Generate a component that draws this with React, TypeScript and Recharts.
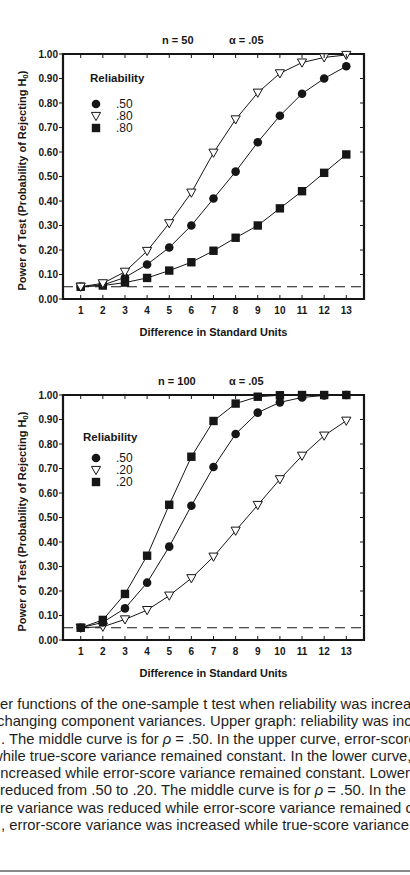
import React from 'react';
import { LineChart, Line, XAxis, YAxis, ReferenceLine, ReferenceArea } from 'recharts';

// difference in standard units (x categories)
const differences = [1, 2, 3, 4, 5, 6, 7, 8, 9, 10, 11, 12, 13];
const yTicks = [0, 0.1, 0.2, 0.3, 0.4, 0.5, 0.6, 0.7, 0.8, 0.9, 1.0];

// n = 50: reliability raised from .50 to .80
const n50Rel50 = [0.05, 0.057, 0.088, 0.141, 0.21, 0.3, 0.41, 0.52, 0.64, 0.748, 0.838, 0.9, 0.95];
const n50ErrorReduced = [0.05, 0.064, 0.111, 0.196, 0.309, 0.434, 0.597, 0.733, 0.842, 0.921, 0.965, 0.986, 0.996];
const n50TrueIncreased = [0.05, 0.055, 0.067, 0.086, 0.116, 0.15, 0.197, 0.25, 0.3, 0.37, 0.44, 0.515, 0.59];

// n = 100: reliability lowered from .50 to .20
const n100Rel50 = [0.05, 0.072, 0.129, 0.234, 0.381, 0.548, 0.706, 0.841, 0.928, 0.97, 0.99, 0.998, 1.0];
const n100TrueReduced = [0.05, 0.082, 0.188, 0.344, 0.552, 0.748, 0.894, 0.965, 0.993, 0.999, 1.0, 1.0, 1.0];
const n100ErrorIncreased = [0.05, 0.054, 0.084, 0.122, 0.181, 0.252, 0.34, 0.446, 0.551, 0.656, 0.752, 0.834, 0.895];

const alphaLevel = 0.05;

const captionLines = [
  'er functions of the one-sample t test when reliability was increased',
  'changing component variances. Upper graph: reliability was increased',
  '. The middle curve is for \u03c1 = .50. In the upper curve, error-score',
  'while true-score variance remained constant. In the lower curve,',
  'increased while error-score variance remained constant. Lower graph',
  'reduced from .50 to .20. The middle curve is for \u03c1 = .50. In the upper',
  're variance was reduced while error-score variance remained constant',
  ', error-score variance was increased while true-score variance remained',
];
const captionOffsets = [0, -3, 1, -8, -3, 0, 0, 1];

const FONT = '"Liberation Sans", Arial, Helvetica, sans-serif';
const INK = '#161616';
const CHART_W = 410;
const CHART_H = 345;
const PLOT_TOP = 54;
const PLOT_BOTTOM = 299;
const PLOT_LEFT = 63;
const PLOT_RIGHT = 364;

const buildRows = (mid: number[], upper: number[], lower: number[]) =>
  differences.map((d, i) => ({ d, mid: mid[i], upper: upper[i], lower: lower[i] }));

const n50Rows = buildRows(n50Rel50, n50ErrorReduced, n50TrueIncreased);
const n100Rows = buildRows(n100Rel50, n100TrueReduced, n100ErrorIncreased);

type Shape = 'circle' | 'triangle' | 'square';

const Marker = ({ shape, cx, cy }: { shape: Shape; cx: number; cy: number }) => {
  if (shape === 'circle') return <circle cx={cx} cy={cy} r={4.3} fill={INK} />;
  if (shape === 'square') return <rect x={cx - 4.2} y={cy - 4.2} width={8.4} height={8.4} fill={INK} />;
  return (
    <polygon
      points={`${cx - 4.6},${cy - 3.6} ${cx + 4.6},${cy - 3.6} ${cx},${cy + 4.6}`}
      fill="#fff"
      stroke={INK}
      strokeWidth={1}
    />
  );
};

const dotFor = (shape: Shape) => (p: any) =>
  <Marker key={`${shape}-${p.index}`} shape={shape} cx={p.cx} cy={p.cy} />;

const XTick = (props: any) => {
  const { x, payload } = props;
  return (
    <g>
      <line x1={x} x2={x} y1={PLOT_BOTTOM} y2={PLOT_BOTTOM - 4} stroke={INK} strokeWidth={1} />
      <line x1={x} x2={x} y1={PLOT_TOP} y2={PLOT_TOP + 4} stroke={INK} strokeWidth={1} />
      <text x={x} y={PLOT_BOTTOM + 15} textAnchor="middle" fontFamily={FONT} fontWeight="bold" fontSize={10} fill={INK}>
        {payload.value}
      </text>
    </g>
  );
};

const YTick = (props: any) => {
  const { y, payload } = props;
  return (
    <g>
      <line x1={PLOT_LEFT - 4} x2={PLOT_LEFT} y1={y} y2={y} stroke={INK} strokeWidth={1} />
      <line x1={PLOT_RIGHT - 4} x2={PLOT_RIGHT} y1={y} y2={y} stroke={INK} strokeWidth={1} />
      <text x={PLOT_LEFT - 5} y={y + 3.5} textAnchor="end" fontFamily={FONT} fontWeight="bold" fontSize={10} fill={INK}>
        {Number(payload.value).toFixed(2)}
      </text>
    </g>
  );
};

const XTitle = () => (
  <text x={(PLOT_LEFT + PLOT_RIGHT) / 2} y={PLOT_BOTTOM + 37} textAnchor="middle" fontFamily={FONT} fontWeight="bold" fontSize={11} fill={INK}>
    Difference in Standard Units
  </text>
);

const YTitle = () => {
  const cx = 22;
  const cy = (PLOT_TOP + PLOT_BOTTOM) / 2 + 4;
  return (
    <text
      x={cx}
      y={cy}
      transform={`rotate(-90 ${cx} ${cy})`}
      textAnchor="middle"
      dominantBaseline="central"
      fontFamily={FONT}
      fontWeight="bold"
      fontSize={11}
      fill={INK}
    >
      Power of Test (Probability of Rejecting H
      <tspan dy={3} fontSize={8}>0</tspan>
      <tspan dy={-3}>)</tspan>
    </text>
  );
};

type LegendEntry = { shape: Shape; label: string };

interface PowerChartProps {
  rows: { d: number; mid: number; upper: number; lower: number }[];
  upperShape: Shape;
  lowerShape: Shape;
  top: number;
  n: string;
  nLeft: number;
  legend: LegendEntry[];
  legendTitleLeft: number;
  legendTitleY: number;
  legendRowsY: number[];
}

const PowerChart: React.FC<PowerChartProps> = ({
  rows, upperShape, lowerShape, top, n, nLeft, legend, legendTitleLeft, legendTitleY, legendRowsY,
}) => (
  <div style={{ position: 'absolute', left: 0, top, width: CHART_W, height: CHART_H }}>
    <LineChart
      width={CHART_W}
      height={CHART_H}
      data={rows}
      margin={{ top: PLOT_TOP, right: CHART_W - PLOT_RIGHT, bottom: CHART_H - PLOT_BOTTOM - 30, left: PLOT_LEFT - 40 }}
    >
      <XAxis
        dataKey="d"
        type="number"
        domain={[0.2, 13.8]}
        ticks={differences}
        interval={0}
        height={30}
        axisLine={false}
        tickLine={false}
        tick={<XTick />}
        label={<XTitle />}
      />
      <YAxis
        type="number"
        domain={[0, 1]}
        ticks={yTicks}
        interval={0}
        width={40}
        axisLine={false}
        tickLine={false}
        tick={<YTick />}
        label={<YTitle />}
      />
      <ReferenceArea x1={0.2} x2={13.8} y1={0} y2={1} fill="none" stroke={INK} strokeWidth={2.2} ifOverflow="visible" />
      <ReferenceLine y={alphaLevel} stroke={INK} strokeWidth={1.1} strokeDasharray="10 6" />
      <Line dataKey="lower" stroke={INK} strokeWidth={1} dot={dotFor(lowerShape)} isAnimationActive={false} />
      <Line dataKey="mid" stroke={INK} strokeWidth={1} dot={dotFor('circle')} isAnimationActive={false} />
      <Line dataKey="upper" stroke={INK} strokeWidth={1} dot={dotFor(upperShape)} isAnimationActive={false} />
    </LineChart>

    <div style={{ position: 'absolute', left: nLeft, top: 34, fontSize: 11, fontWeight: 'bold', color: INK, whiteSpace: 'nowrap' }}>
      n = {n}
    </div>
    <div style={{ position: 'absolute', left: 229, top: 34, fontSize: 11, fontWeight: 'bold', color: INK, whiteSpace: 'nowrap' }}>
      {'\u03b1 = .05'}
    </div>

    <div style={{ position: 'absolute', left: legendTitleLeft, top: legendTitleY - 7, fontSize: 11.5, lineHeight: '14px', fontWeight: 'bold', color: INK }}>
      Reliability
    </div>
    {legend.map((entry, i) => (
      <React.Fragment key={i}>
        <svg width={12} height={12} style={{ position: 'absolute', left: 90, top: legendRowsY[i] - 6, display: 'block' }}>
          <Marker shape={entry.shape} cx={6} cy={6} />
        </svg>
        <div style={{ position: 'absolute', left: 116, top: legendRowsY[i] - 6, height: 12, fontSize: 12, lineHeight: '12px', color: INK }}>
          {entry.label}
        </div>
      </React.Fragment>
    ))}
  </div>
);

export default function App() {
  return (
    <div
      style={{
        position: 'absolute',
        left: 0,
        top: 0,
        width: 410,
        height: 875,
        overflow: 'hidden',
        background: '#fff',
        fontFamily: FONT,
      }}
    >
      <PowerChart
        rows={n50Rows}
        upperShape="triangle"
        lowerShape="square"
        top={0}
        n="50"
        nLeft={162}
        legend={[
          { shape: 'circle', label: '.50' },
          { shape: 'triangle', label: '.80' },
          { shape: 'square', label: '.80' },
        ]}
        legendTitleLeft={90}
        legendTitleY={78}
        legendRowsY={[104, 116, 128]}
      />
      <PowerChart
        rows={n100Rows}
        upperShape="square"
        lowerShape="triangle"
        top={341}
        n="100"
        nLeft={158}
        legend={[
          { shape: 'circle', label: '.50' },
          { shape: 'triangle', label: '.20' },
          { shape: 'square', label: '.20' },
        ]}
        legendTitleLeft={83}
        legendTitleY={96}
        legendRowsY={[117, 129, 141]}
      />

      <div style={{ position: 'absolute', left: 0, top: 696, width: 410, fontSize: 14.8, lineHeight: '17.3px', color: '#1e1e1e' }}>
        {captionLines.map((line, i) => (
          <div key={i} style={{ whiteSpace: 'nowrap', marginLeft: captionOffsets[i] }}>
            {line.split('\u03c1').map((part, j, arr) => (
              <React.Fragment key={j}>
                {part}
                {j < arr.length - 1 && <i>{'\u03c1'}</i>}
              </React.Fragment>
            ))}
          </div>
        ))}
      </div>
      <div style={{ position: 'absolute', left: 0, top: 870, width: 410, height: 2, background: '#8a8a8a' }} />
    </div>
  );
}
